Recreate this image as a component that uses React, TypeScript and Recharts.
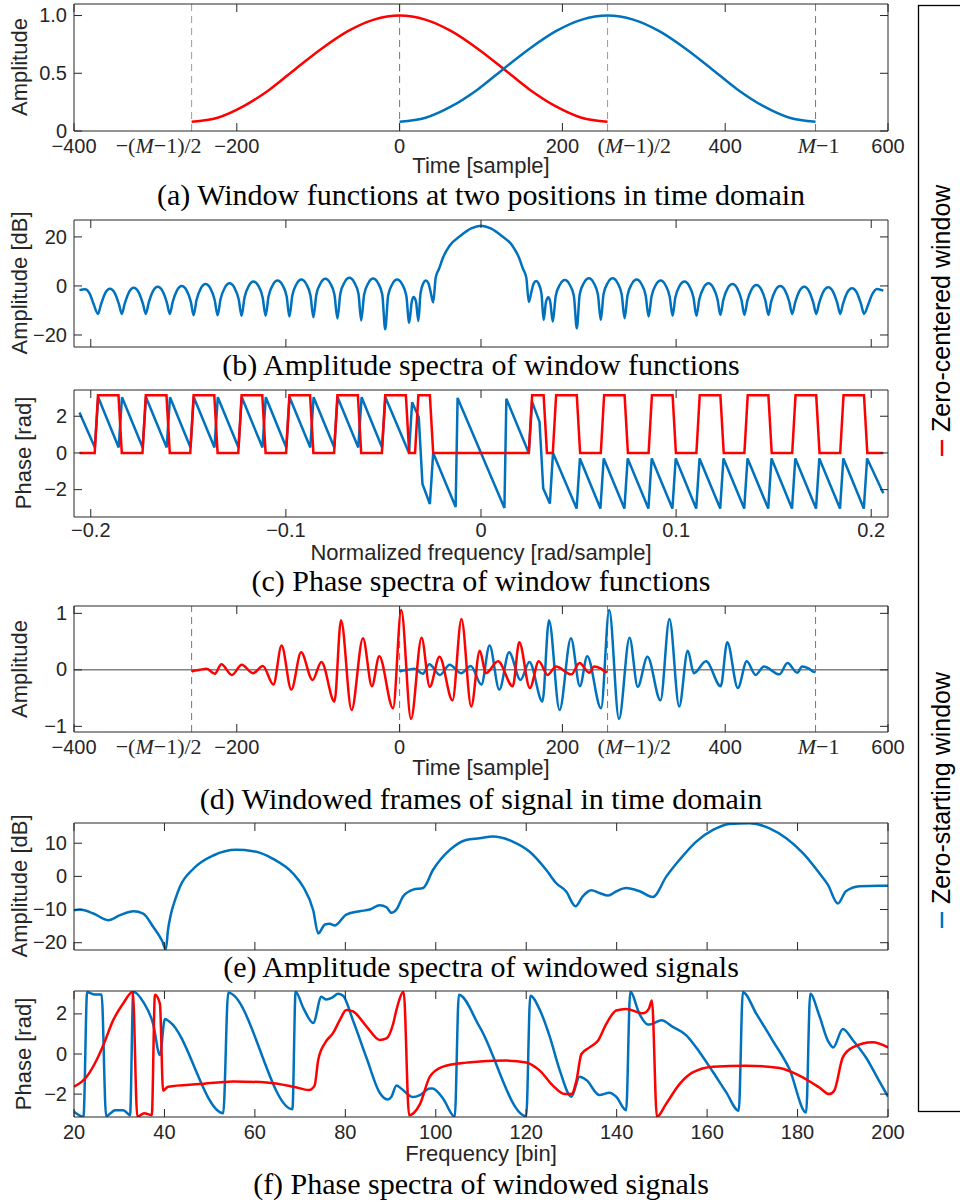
import React from "react";
import { LineChart, Line, XAxis, YAxis, ReferenceLine } from "recharts";

const BLUE = "#0072BD";
const RED = "#FF0000";
const AX = "#262626";
const SANS = "'Liberation Sans', Arial, Helvetica, sans-serif";
const SERIF = "'Liberation Serif', 'Times New Roman', serif";

const HALF = 255.5; // (M-1)/2
const LAST = 511; // M-1

// (a) window amplitude, position counted from the first sample of the frame
const winPos = [0, 32, 64, 96, 128, 160, 192, 224, 255.5, 287, 319, 351, 383, 415, 447, 479, 511];
const winAmp = [0.08, 0.115, 0.215, 0.36, 0.54, 0.715, 0.865, 0.965, 1.0, 0.965, 0.865, 0.715, 0.54, 0.36, 0.215, 0.115, 0.08];

// (b) amplitude spectrum of the window [rad/sample, dB]
const ampSpec: [number, number][] = [
  [-0.2058, -1.7], [-0.203, -1.3], [-0.2005, -3.2], [-0.1985, -7.5], [-0.1963, -11.4],
  [-0.1948, -7.6], [-0.1926, -2.9], [-0.1902, -1.1], [-0.1877, -2.9], [-0.1855, -7.6], [-0.1841, -11.4],
  [-0.1826, -7.2], [-0.1804, -2.5], [-0.178, -0.7], [-0.1755, -2.5], [-0.1733, -7.2], [-0.1718, -11.4],
  [-0.1703, -6.8], [-0.1681, -2.1], [-0.1657, -0.3], [-0.1632, -2.1], [-0.161, -6.8], [-0.1595, -11.4],
  [-0.158, -6.5], [-0.1558, -1.8], [-0.1534, 0.0], [-0.1509, -1.8], [-0.1487, -6.5], [-0.1473, -12.0],
  [-0.1458, -5.7], [-0.1436, -1.0], [-0.1412, 0.8], [-0.1387, -1.0], [-0.1365, -5.7], [-0.135, -12.0],
  [-0.1335, -5.4], [-0.1313, -0.7], [-0.1289, 1.1], [-0.1264, -0.7], [-0.1242, -5.4], [-0.1227, -12.2],
  [-0.1212, -4.7], [-0.119, 0.0], [-0.1166, 1.8], [-0.1141, 0.0], [-0.1119, -4.7], [-0.1104, -12.2],
  [-0.1089, -4.3], [-0.1067, 0.4], [-0.1043, 2.2], [-0.1018, 0.4], [-0.0996, -4.3], [-0.0982, -12.5],
  [-0.0967, -3.9], [-0.0945, 0.8], [-0.0921, 2.6], [-0.0896, 0.8], [-0.0874, -3.9], [-0.0859, -12.8],
  [-0.0844, -3.6], [-0.0822, 1.1], [-0.0798, 2.9], [-0.0773, 1.1], [-0.0751, -3.6], [-0.0736, -13.3],
  [-0.0721, -3.2], [-0.0699, 1.5], [-0.0675, 3.3], [-0.065, 1.5], [-0.0628, -3.2], [-0.0614, -14.1],
  [-0.0599, -3.5], [-0.0577, 1.2], [-0.0553, 3.0], [-0.0528, 1.2], [-0.0506, -3.5], [-0.0491, -17.7],
  [-0.0476, -3.9], [-0.0454, 0.8], [-0.043, 2.6], [-0.0405, 0.8], [-0.0383, -3.9], [-0.0368, -15.0],
  [-0.0355, -6.5], [-0.0345, -4.5], [-0.0333, -6.5], [-0.0321, -14.3],
  [-0.031, -3.0], [-0.0295, 1.2], [-0.0283, 2.2], [-0.027, 1.2], [-0.0258, -2.5], [-0.0245, -6.7],
  [-0.0232, 3.5], [-0.0215, 7.0], [-0.0195, 11.5], [-0.016, 16.5], [-0.0105, 20.5], [-0.005, 23.5], [0, 24.6],
  [0.005, 23.5], [0.0105, 20.5], [0.016, 16.5], [0.0195, 11.5], [0.0215, 7.0], [0.0232, 3.5], [0.0245, -6.5],
  [0.0258, -2.5], [0.027, 1.0], [0.0283, 2.0], [0.0295, 1.0], [0.031, -3.2], [0.0321, -13.9],
  [0.0333, -6.5], [0.0345, -4.6], [0.0355, -6.5], [0.0368, -14.6],
  [0.0383, -4.1], [0.0405, 0.6], [0.043, 2.4], [0.0454, 0.6], [0.0476, -4.1], [0.0491, -17.3],
  [0.0506, -3.4], [0.0528, 1.3], [0.0553, 3.1], [0.0577, 1.3], [0.0599, -3.4], [0.0614, -13.9],
  [0.0628, -3.4], [0.065, 1.3], [0.0675, 3.1], [0.0699, 1.3], [0.0721, -3.4], [0.0736, -13.2],
  [0.0751, -3.9], [0.0773, 0.8], [0.0798, 2.6], [0.0822, 0.8], [0.0844, -3.9], [0.0859, -12.5],
  [0.0874, -4.3], [0.0896, 0.4], [0.0921, 2.2], [0.0945, 0.4], [0.0967, -4.3], [0.0982, -12.2],
  [0.0996, -4.7], [0.1018, 0.0], [0.1043, 1.8], [0.1067, 0.0], [0.1089, -4.7], [0.1104, -12.2],
  [0.1119, -5.4], [0.1141, -0.7], [0.1166, 1.1], [0.119, -0.7], [0.1212, -5.4], [0.1227, -11.8],
  [0.1242, -5.7], [0.1264, -1.0], [0.1289, 0.8], [0.1313, -1.0], [0.1335, -5.7], [0.135, -11.8],
  [0.1365, -6.1], [0.1387, -1.4], [0.1412, 0.4], [0.1436, -1.4], [0.1458, -6.1], [0.1473, -11.8],
  [0.1487, -6.5], [0.1509, -1.8], [0.1534, 0.0], [0.1558, -1.8], [0.158, -6.5], [0.1595, -11.4],
  [0.161, -6.8], [0.1632, -2.1], [0.1657, -0.3], [0.1681, -2.1], [0.1703, -6.8], [0.1718, -11.4],
  [0.1733, -7.0], [0.1755, -2.3], [0.178, -0.5], [0.1804, -2.3], [0.1826, -7.0], [0.1841, -11.4],
  [0.1855, -7.4], [0.1877, -2.7], [0.1902, -0.9], [0.1926, -2.7], [0.1948, -7.4], [0.1963, -11.4],
  [0.1985, -7.5], [0.2005, -3.4], [0.203, -1.2], [0.2062, -1.9],
];

// (c) phase spectra [rad/sample, rad]
const phaseCentered: [number, number][] = [
  [-0.2058, 0], [-0.198, 0], [-0.1963, 3.14], [-0.1858, 3.14], [-0.1841, 0],
  [-0.1735, 0], [-0.1718, 3.14], [-0.1612, 3.14], [-0.1595, 0],
  [-0.149, 0], [-0.1473, 3.14], [-0.1367, 3.14], [-0.135, 0],
  [-0.1244, 0], [-0.1227, 3.14], [-0.1121, 3.14], [-0.1104, 0],
  [-0.0999, 0], [-0.0982, 3.14], [-0.0876, 3.14], [-0.0859, 0],
  [-0.0753, 0], [-0.0736, 3.14], [-0.0631, 3.14], [-0.0614, 0],
  [-0.0508, 0], [-0.0491, 3.14], [-0.0385, 3.14], [-0.0368, 0],
  [-0.0338, 0], [-0.0321, 3.14], [-0.0262, 3.14], [-0.0245, 0],
  [0.0245, 0], [0.0262, 3.14], [0.0321, 3.14], [0.0338, 0],
  [0.0368, 0], [0.0385, 3.14], [0.0491, 3.14], [0.0508, 0],
  [0.0614, 0], [0.0631, 3.14], [0.0736, 3.14], [0.0753, 0],
  [0.0859, 0], [0.0876, 3.14], [0.0982, 3.14], [0.0999, 0],
  [0.1104, 0], [0.1121, 3.14], [0.1227, 3.14], [0.1244, 0],
  [0.135, 0], [0.1367, 3.14], [0.1473, 3.14], [0.149, 0],
  [0.1595, 0], [0.1612, 3.14], [0.1718, 3.14], [0.1735, 0],
  [0.1841, 0], [0.1858, 3.14], [0.1963, 3.14], [0.198, 0], [0.2062, 0],
];

const phaseStarting: [number, number][] = [
  [-0.2058, 2.2], [-0.1979, 0.3], [-0.1962, 3.03], [-0.1857, 0.3], [-0.184, 3.03],
  [-0.1734, 0.3], [-0.1717, 3.03], [-0.1611, 0.3], [-0.1594, 3.03],
  [-0.1489, 0.3], [-0.1472, 3.03], [-0.1366, 0.3], [-0.1349, 3.03],
  [-0.1243, 0.3], [-0.1226, 3.03], [-0.112, 0.3], [-0.1103, 3.03],
  [-0.0998, 0.3], [-0.0981, 3.03], [-0.0875, 0.3], [-0.0858, 3.03],
  [-0.0752, 0.3], [-0.0735, 3.03], [-0.0629, 0.3], [-0.0612, 3.03],
  [-0.0507, 0.3], [-0.049, 3.03], [-0.0369, 0.0], [-0.0353, 2.76],
  [-0.0319, 1.94], [-0.03, -1.69], [-0.0262, -2.78], [-0.0245, 0.0],
  [-0.013, -2.95], [-0.012, 3.0], [0.012, -3.0], [0.013, 2.95],
  [0.0245, 0.0], [0.0262, 2.78], [0.03, 1.69], [0.0319, -1.94], [0.0353, -2.76],
  [0.0369, 0.0], [0.049, -3.03], [0.0507, -0.3], [0.0612, -3.03], [0.0629, -0.3],
  [0.0735, -3.03], [0.0752, -0.3], [0.0858, -3.03], [0.0875, -0.3],
  [0.0981, -3.03], [0.0998, -0.3], [0.1103, -3.03], [0.112, -0.3],
  [0.1226, -3.03], [0.1243, -0.3], [0.1349, -3.03], [0.1366, -0.3],
  [0.1472, -3.03], [0.1489, -0.3], [0.1594, -3.03], [0.1611, -0.3],
  [0.1717, -3.03], [0.1734, -0.3], [0.184, -3.03], [0.1857, -0.3],
  [0.1962, -3.03], [0.1979, -0.3], [0.2062, -2.2],
];

// (d) windowed frame, position counted from the first sample of the frame
const frame: [number, number][] = [
  [0, -0.03], [1.5, -0.02], [10, 0.0], [18.5, 0.02], [28.5, -0.07], [36.5, 0.1], [49.5, -0.09],
  [61.5, 0.09], [75.5, -0.06], [87.5, 0.07], [100.5, -0.26], [110.5, 0.43], [122.5, -0.35],
  [134.5, 0.31], [148.5, -0.18], [159.5, 0.14], [175.5, -0.56], [183.5, 0.88], [196.5, -0.71],
  [210.5, 0.56], [221.5, -0.29], [230.5, 0.24], [247.5, -0.68], [257.5, 1.06], [269.5, -0.87],
  [282.5, 0.57], [292.5, -0.3], [304.5, 0.23], [320.5, -0.54], [331.5, 0.9], [343.5, -0.65],
  [354, 0.34], [361.5, -0.06], [376.5, 0.15], [394.5, -0.29], [402.5, 0.49], [415.5, -0.32],
  [426.5, 0.15], [437.5, -0.09], [447.5, 0.06], [466.5, -0.08], [476.5, 0.12], [488.5, -0.05],
  [494.5, 0.06], [503, 0.02], [509.5, -0.04], [511, -0.04],
];

// (e) amplitude spectrum of windowed signal [bin, dB]
const sigAmp: [number, number][] = [
  [20, -10.2], [21.3, -10.0], [24.3, -11.2], [27.6, -13.2], [30.2, -11.7], [33.1, -10.5],
  [35.3, -11.2], [37.5, -15.2], [39.5, -19.5], [40.3, -22], [40.8, -16], [41.5, -11], [42.5, -6.5],
  [43.4, -3.2], [46.4, 2.3], [50.8, 6.3], [55.9, 8], [59.6, 7.6], [64.0, 5.3], [68.5, 0.8],
  [70.7, -3.2], [72.9, -10.2], [74.0, -17.2], [75.5, -14.5], [76.5, -14.3], [77.7, -14.8],
  [80.2, -11.5], [83.2, -10.5], [85.4, -10], [87.6, -8.7], [89.1, -9.3], [90.2, -11], [91.3, -10],
  [92.8, -6], [95.0, -4], [97.2, -3.5], [99.4, 2], [103.1, 8], [106.7, 11], [109.7, 11.5],
  [112.6, 12], [117.0, 10.5], [120.7, 7.5], [124.4, 2], [126.6, -2], [128.8, -4.5], [130.9, -9],
  [132.5, -6], [134.4, -4.2], [136.2, -5], [138.1, -5.8], [139.9, -4.5], [142.1, -3.5],
  [145.1, -4.5], [148.0, -6.2], [151.0, 0], [153.9, 5], [157.6, 10.5], [161.3, 14], [164.9, 15.8],
  [169.4, 16.0], [173.8, 14.5], [177.5, 11.5], [181.2, 7], [184.8, 1], [186.7, -2.5],
  [188.9, -8.2], [190.7, -4.5], [193.7, -3], [198.1, -2.8], [200, -2.8],
];

// (f) phase spectra of windowed signals [bin, rad]
const sigPhaseStarting: [number, number][] = [
  [20, -2.88], [22.1, -3.13], [22.9, 3.08], [24.6, 2.97], [26.1, 2.97], [27.1, -3.1], [29.1, -2.8],
  [30.9, -2.8], [32.4, -3.05], [33.1, 3.1], [35.3, 2.6], [37.5, 1.5], [39.0, -0.05], [40.1, 1.75],
  [41.2, 1.6], [53.0, -2.95], [54.1, 3.05], [68.3, -2.75], [69.0, 3.1], [70.7, 2.3], [72.9, 1.55],
  [74.7, 2.85], [75.8, 2.72], [77.0, 2.8], [78.4, 3.0], [79.5, 2.9], [81.7, 1.67], [84.7, -0.2],
  [87.6, -1.93], [89.4, -2.27], [90.2, -2.13], [91.3, -1.57], [92.4, -1.73], [95.0, -2.15],
  [96.5, -2.05], [98.7, -1.72], [99.3, -1.72], [101.6, -2.22], [104.2, -3.13], [105.1, 2.95],
  [109.7, 1.35], [120.0, -3.1], [120.9, 2.9], [123.0, 2.2], [125.2, 0.87], [127.4, -0.8],
  [130.0, -2.13], [131.8, -1.13], [133.3, -1.3], [136.2, -2.05], [138.4, -1.93], [139.9, -2.13],
  [142.1, -2.8], [143.0, 3.1], [145.1, 1.97], [146.9, 1.47], [147.8, 1.5], [149.9, 1.68],
  [152.4, 1.35], [155.4, 0.93], [158.3, 0.1], [161.3, -0.9], [164.2, -1.9], [167.0, -2.83],
  [167.9, 3.08], [170.9, 2.0], [174.5, 0.67], [178.2, -0.75], [181.9, -2.92], [182.8, 3.0],
  [184.8, 1.92], [186.7, 0.67], [187.9, 0.33], [190.0, 1.25], [192.2, 0.7], [195.2, -0.2],
  [198.1, -1.37], [200, -2.12],
];

const sigPhaseCentered: [number, number][] = [
  [20, -1.63], [22.8, -1.13], [25.0, -0.3], [26.5, 0.45], [28.7, 1.7], [30.9, 2.53], [33.0, 3.1],
  [34.0, -3.13], [35.5, -2.95], [37.2, -3.05], [37.9, 2.95], [39.0, 2.5], [39.7, -1.83],
  [40.8, -1.63], [47.8, -1.5], [55.2, -1.37], [62.6, -1.42], [68.5, -1.63], [72.0, -1.8],
  [73.2, -1.58], [74.0, -0.3], [75.5, 0.55], [77.3, 1.05], [78.8, 1.7], [80.2, 2.2], [81.7, 2.12],
  [84.7, 1.37], [87.6, 0.7], [89.1, 0.78], [90.6, 1.53], [91.3, 2.2], [92.9, 3.1], [94.1, -3.05],
  [96.5, -2.5], [98.7, -1.13], [101.6, -0.63], [106.7, -0.43], [109.7, -0.38], [115.6, -0.33],
  [120.0, -0.42], [123.0, -0.83], [125.9, -1.58], [128.5, -2.0], [130.0, -2.0], [131.1, -1.33],
  [132.2, 0], [134.0, 0.33], [135.9, 0.67], [137.7, 1.5], [139.9, 2.17], [142.1, 2.25],
  [145.8, 2.03], [147.1, 2.25], [147.8, 2.67], [148.9, -3.13], [150.9, -2.5], [153.9, -1.5],
  [156.8, -0.92], [161.3, -0.63], [168.6, -0.58], [176.0, -0.7], [180.4, -1.08], [184.8, -1.67],
  [187.0, -2.0], [188.1, -1.83], [190.0, -0.17], [192.2, 0.33], [196.6, 0.58], [200, 0.33],
];

const timeTicks = [-400, -HALF, -200, 0, 200, HALF, 400, LAST, 600];
const freqTicks = [-0.2, -0.1, 0, 0.1, 0.2];
const binTicks = [20, 40, 60, 80, 100, 120, 140, 160, 180, 200];

const pts = (a: [number, number][]) => a.map(([x, y]) => ({ x, y }));
const shifted = (pos: number[], val: number[], off: number) => pos.map((p, i) => ({ x: p + off, y: val[i] }));
const minus = (v: number) => (v < 0 ? "\u2212" + String(-v) : String(v));

const TICK_FS = 20;

function mathLabel(v: number, x: number, y: number) {
  const st = { fontFamily: SERIF, fontSize: 22, fill: AX } as const;
  if (v === -HALF)
    return (
      <text x={x + 10} y={y} textAnchor="end" {...st}>
        {"\u2212("}<tspan fontStyle="italic">M</tspan>{"\u22121)/2"}
      </text>
    );
  if (v === HALF)
    return (
      <text x={x - 10} y={y} textAnchor="start" {...st}>
        {"("}<tspan fontStyle="italic">M</tspan>{"\u22121)/2"}
      </text>
    );
  return (
    <text x={x + 3} y={y} textAnchor="middle" {...st}>
      <tspan fontStyle="italic">M</tspan>{"\u22121"}
    </text>
  );
}

function BottomTick(props: any) {
  const { x, y, payload, mode, dy } = props;
  const v = payload.value;
  const special = v === -HALF || v === HALF || v === LAST;
  let label: React.ReactNode = null;
  if (mode === "time" && special) label = mathLabel(v, x, y + dy);
  else if (mode !== "none")
    label = (
      <text x={x} y={y + dy} textAnchor="middle" fontFamily={SANS} fontSize={TICK_FS} fill={AX}>
        {minus(v)}
      </text>
    );
  return (
    <g>
      {!special && <line x1={x} x2={x} y1={y} y2={y - 8} stroke={AX} strokeWidth={1} />}
      {label}
    </g>
  );
}

function TopTick(props: any) {
  const { x, y, payload } = props;
  const v = payload.value;
  if (v === -HALF || v === HALF || v === LAST) return <g />;
  return <line x1={x} x2={x} y1={y} y2={y + 8} stroke={AX} strokeWidth={1} />;
}

function LeftTick(props: any) {
  const { x, y, payload, fmt } = props;
  return (
    <g>
      <line x1={x} x2={x + 8} y1={y} y2={y} stroke={AX} strokeWidth={1} />
      <text x={x - 7} y={y} dy="0.33em" textAnchor="end" fontFamily={SANS} fontSize={TICK_FS} fill={AX}>
        {fmt ? fmt(payload.value) : minus(payload.value)}
      </text>
    </g>
  );
}

function RightTick(props: any) {
  const { x, y } = props;
  return <line x1={x} x2={x - 8} y1={y} y2={y} stroke={AX} strokeWidth={1} />;
}

type PanelProps = {
  top: number;
  bottom: number;
  xDomain: [number, number];
  xTicks: number[];
  xMode: "time" | "num" | "none";
  tickDy?: number;
  yDomain: [number, number];
  yTicks: number[];
  yFmt?: (v: number) => string;
  children: React.ReactNode;
};

// plot area runs from x=74 to x=888, from `top` to `bottom` on the page
function Panel({ top, bottom, xDomain, xTicks, xMode, tickDy = 22, yDomain, yTicks, yFmt, children }: PanelProps) {
  const h = bottom - top + 40;
  const common = { type: "number" as const, allowDataOverflow: true, interval: 0 as const, tickSize: 0, tickMargin: 0, tickLine: false, axisLine: { stroke: AX, strokeWidth: 1 } };
  return (
    <div style={{ position: "absolute", left: 0, top: top - 10 }}>
      <LineChart width={960} height={h} margin={{ top: 9, right: 71, bottom: 0, left: 0 }}>
        <XAxis xAxisId="b" dataKey="x" domain={xDomain} ticks={xTicks} height={30} {...common}
          tick={(p: any) => <BottomTick {...p} mode={xMode} dy={tickDy} />} />
        <XAxis xAxisId="t" orientation="top" dataKey="x" domain={xDomain} ticks={xTicks} height={1} {...common}
          tick={(p: any) => <TopTick {...p} />} />
        <YAxis yAxisId="l" domain={yDomain} ticks={yTicks} width={74} {...common}
          tick={(p: any) => <LeftTick {...p} fmt={yFmt} />} />
        <YAxis yAxisId="r" orientation="right" domain={yDomain} ticks={yTicks} width={1} {...common}
          tick={(p: any) => <RightTick {...p} />} />
        {children}
      </LineChart>
    </div>
  );
}

const lineProps = { xAxisId: "b", yAxisId: "l", dataKey: "y", dot: false, isAnimationActive: false, strokeWidth: 2.5 } as const;

function vLines(dark: string, light: string) {
  return [
    <ReferenceLine key="v1" xAxisId="b" yAxisId="l" x={-HALF} stroke={light} strokeDasharray="7 5" />,
    <ReferenceLine key="v2" xAxisId="b" yAxisId="l" x={0} stroke={dark} strokeDasharray="7 5" />,
    <ReferenceLine key="v3" xAxisId="b" yAxisId="l" x={HALF} stroke={light} strokeDasharray="7 5" />,
    <ReferenceLine key="v4" xAxisId="b" yAxisId="l" x={LAST} stroke={dark} strokeDasharray="7 5" />,
  ];
}

function YLabel({ x, y, text }: { x: number; y: number; text: string }) {
  return (
    <text transform={`translate(${x},${y}) rotate(-90)`} textAnchor="middle" fontFamily={SANS} fontSize={22} fill={AX}>
      {text}
    </text>
  );
}

function XLabel({ y, text }: { y: number; text: string }) {
  return (
    <text x={481} y={y} textAnchor="middle" fontFamily={SANS} fontSize={22} fill={AX}>
      {text}
    </text>
  );
}

function Caption({ y, text }: { y: number; text: string }) {
  return (
    <text x={481} y={y} textAnchor="middle" fontFamily={SERIF} fontSize={30} fill="#000">
      {text}
    </text>
  );
}

export default function App() {
  const framePos = frame.map((f) => f[0]);
  const frameAmp = frame.map((f) => f[1]);
  return (
    <div style={{ position: "absolute", left: 0, top: 0, width: 960, height: 1202, background: "#fff", overflow: "hidden" }}>
      {/* (a) */}
      <Panel top={4} bottom={131} xDomain={[-400, 600]} xTicks={timeTicks} xMode="time" yDomain={[0, 1.1]} yTicks={[0, 0.5, 1]}
        yFmt={(v) => (v === 1 ? "1.0" : String(v))}>
        {vLines("#777", "#9a9a9a")}
        <Line {...lineProps} type="monotone" data={shifted(winPos, winAmp, -HALF)} stroke={RED} />
        <Line {...lineProps} type="monotone" data={shifted(winPos, winAmp, 0)} stroke={BLUE} />
      </Panel>

      {/* (b) */}
      <Panel top={220} bottom={347} xDomain={[-0.2086, 0.2086]} xTicks={freqTicks} xMode="none" yDomain={[-24.9, 26.9]} yTicks={[-20, 0, 20]}>
        <Line {...lineProps} type="monotone" data={pts(ampSpec)} stroke={BLUE} />
      </Panel>

      {/* (c) */}
      <Panel top={390} bottom={517} xDomain={[-0.2086, 0.2086]} xTicks={freqTicks} xMode="num" tickDy={20} yDomain={[-3.49, 3.43]} yTicks={[-2, 0, 2]}>
        <Line {...lineProps} type="linear" data={pts(phaseStarting)} stroke={BLUE} />
        <Line {...lineProps} type="linear" data={pts(phaseCentered)} stroke={RED} />
      </Panel>

      {/* (d) */}
      <Panel top={606} bottom={732} xDomain={[-400, 600]} xTicks={timeTicks} xMode="time" yDomain={[-1.1, 1.13]} yTicks={[-1, 0, 1]}>
        <ReferenceLine xAxisId="b" yAxisId="l" y={0} stroke="#404040" strokeWidth={1} />
        {vLines("#777", "#777")}
        <Line {...lineProps} type="monotone" data={shifted(framePos, frameAmp, 0)} stroke={BLUE} />
        <Line {...lineProps} type="monotone" data={shifted(framePos, frameAmp, -HALF)} stroke={RED} />
      </Panel>

      {/* (e) */}
      <Panel top={823} bottom={950} xDomain={[20, 200]} xTicks={binTicks} xMode="none" yDomain={[-22.2, 16.1]} yTicks={[-20, -10, 0, 10]}>
        <Line {...lineProps} type="monotone" data={pts(sigAmp)} stroke={BLUE} />
      </Panel>

      {/* (f) */}
      <Panel top={991} bottom={1117} xDomain={[20, 200]} xTicks={binTicks} xMode="num" yDomain={[-3.1416, 3.1416]} yTicks={[-2, 0, 2]}>
        <Line {...lineProps} type="monotone" data={pts(sigPhaseStarting)} stroke={BLUE} />
        <Line {...lineProps} type="monotone" data={pts(sigPhaseCentered)} stroke={RED} />
      </Panel>

      <svg width={960} height={1202} style={{ position: "absolute", left: 0, top: 0, pointerEvents: "none" }}>
        <YLabel x={27} y={67} text="Amplitude" />
        <XLabel y={173} text="Time [sample]" />
        <Caption y={205} text="(a) Window functions at two positions in time domain" />

        <YLabel x={27} y={283} text="Amplitude [dB]" />
        <Caption y={375} text="(b) Amplitude spectra of window functions" />

        <YLabel x={31} y={453} text="Phase [rad]" />
        <XLabel y={560} text="Normalized frequency [rad/sample]" />
        <Caption y={591} text="(c) Phase spectra of window functions" />

        <YLabel x={27} y={669} text="Amplitude" />
        <XLabel y={775} text="Time [sample]" />
        <Caption y={809} text="(d) Windowed frames of signal in time domain" />

        <YLabel x={27} y={886} text="Amplitude [dB]" />
        <Caption y={977} text="(e) Amplitude spectra of windowed signals" />

        <YLabel x={31} y={1054} text="Phase [rad]" />
        <XLabel y={1161} text="Frequency [bin]" />
        <Caption y={1194} text="(f) Phase spectra of windowed signals" />

        {/* legend */}
        <rect x={918.5} y={5.5} width={60} height={1106} fill="none" stroke="#000" strokeWidth={1.3} />
        <line x1={942} x2={942} y1={440} y2={456} stroke={RED} strokeWidth={2.5} />
        <text transform="translate(950,432) rotate(-90)" textAnchor="start" fontFamily={SANS} fontSize={25} fill="#000">
          Zero-centered window
        </text>
        <line x1={942} x2={942} y1={912} y2={928} stroke={BLUE} strokeWidth={2.5} />
        <text transform="translate(950,904) rotate(-90)" textAnchor="start" fontFamily={SANS} fontSize={25} fill="#000">
          Zero-starting window
        </text>
      </svg>
    </div>
  );
}
